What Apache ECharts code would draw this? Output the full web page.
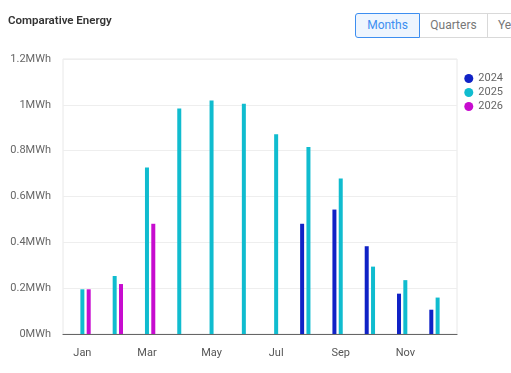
<!DOCTYPE html>
<html>
<head>
<meta charset="utf-8">
<script src="https://cdn.jsdelivr.net/npm/echarts@6/dist/echarts.min.js"></script>
<style>
html,body{margin:0;padding:0;background:#fff;overflow:hidden;}
#chart{position:absolute;left:0;top:0;width:511px;height:373px;}
.btns{position:absolute;left:355px;top:13px;display:flex;font-family:Roboto,"Noto Sans",sans-serif;font-size:12px;height:25px;}
.btn{box-sizing:border-box;height:25px;line-height:23px;border:1px solid #d9d9d9;color:#777;padding:0 10px;background:#fff;white-space:nowrap;}
.btn.active{border-color:#3d8ef0;color:#3d8ef0;background:#eef5fe;border-radius:3px 0 0 3px;}
.btn+.btn{border-left:none;}
</style>
</head>
<body>
<div id="chart"></div>
<div class="btns"><div class="btn active" style="width:65px;text-align:center">Months</div><div class="btn" style="width:68px;text-align:center">Quarters</div><div class="btn" style="width:60px">Years</div></div>
<script>
const months = ['Jan','Feb','Mar','Apr','May','Jun','Jul','Aug','Sep','Oct','Nov','Dec'];
const seriesNames = ['2024','2025','2026'];
const values2024 = [null,null,null,null,null,null,null,0.481,0.543,0.383,0.176,0.106];
const values2025 = [0.195,0.253,0.727,0.984,1.019,1.005,0.872,0.816,0.679,0.294,0.235,0.159];
const values2026 = [0.195,0.218,0.481,null,null,null,null,null,null,null,null,null];
const colors = ['#1022c6','#10bccf','#c70ccf'];
const yTicks = [0,0.2,0.4,0.6,0.8,1,1.2];

const toPairs = arr => arr.map((v,i)=>[i, v===null ? '-' : v]);
const allValues = [values2024, values2025, values2026];

const chart = echarts.init(document.getElementById('chart'), null, {renderer:'canvas'});
chart.setOption({
  animation:false,
  color: colors,
  title:{text:'Comparative Energy',left:3,top:10,textStyle:{fontSize:11.5,fontWeight:600,color:'#333',fontFamily:'Roboto'}},
  legend:{
    orient:'vertical', right:3, top:68, itemWidth:9, itemHeight:9, itemGap:3, icon:'circle',
    data: seriesNames,
    textStyle:{color:'#666',fontSize:11,fontFamily:'Roboto'}
  },
  grid:{left:63,right:54,top:59,bottom:39,show:true,borderColor:'#e8e8e8',borderWidth:1},
  xAxis:{
    type:'value', min:-0.6, max:11.6,
    axisLine:{show:true,onZero:false,lineStyle:{color:'#666',width:1.2}},
    axisTick:{show:false},
    splitLine:{show:false},
    axisLabel:{customValues:[0,2,4,6,8,10],formatter:v=>months[Math.round(v)],color:'#555',fontSize:11,fontFamily:'Roboto',margin:14}
  },
  yAxis:{
    type:'value', min:0, max:1.2, interval:0.2,
    axisLine:{show:false}, axisTick:{show:false},
    splitLine:{lineStyle:{color:'#eeeeee'}},
    axisLabel:{formatter:v=>(+v.toFixed(2))+'MWh',color:'#666',fontSize:11,fontFamily:'Roboto',margin:12}
  },
  series: seriesNames.map((n,k)=>({
    name:n, type:'bar', barWidth:4, barGap:'58%',
    data: toPairs(allValues[k])
  }))
});
</script>
</body>
</html>
